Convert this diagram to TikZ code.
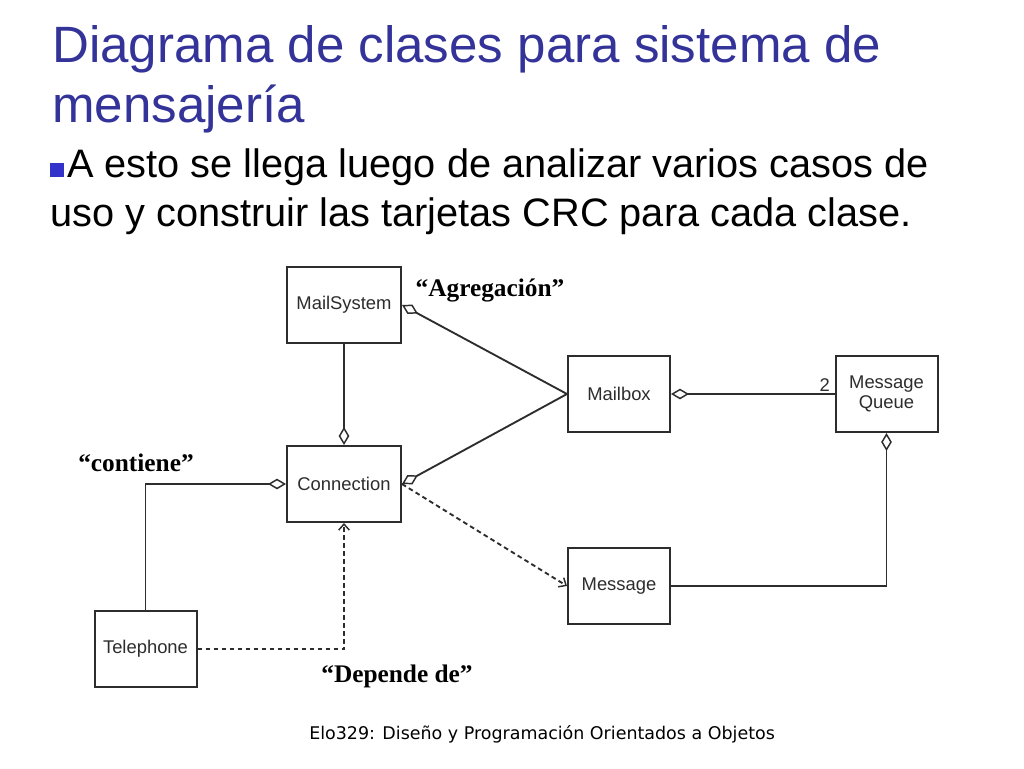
\documentclass[tikz,border=0pt]{standalone}
\usepackage{fontspec}
\setmainfont{Liberation Sans}
\newfontfamily\lblfont{Liberation Serif}
\newfontfamily\footfont{DejaVu Sans}
\usetikzlibrary{arrows.meta}
\definecolor{titleblue}{RGB}{51,51,153}
\definecolor{bulletblue}{RGB}{51,51,204}
\definecolor{boxgray}{RGB}{45,45,45}
\tikzset{
  classbox/.style={draw=boxgray, line width=1.5pt, fill=white, minimum width=76.5pt, minimum height=57pt, inner sep=0pt, align=center, font=\fontsize{13.8}{15.5}\selectfont, text=boxgray},
  conn/.style={draw=boxgray, line width=1.4pt},
  agg/.style={{Diamond[open,length=13.5pt,width=8pt,line width=1.1pt]}-},
  dep/.style={dashed, dash pattern=on 3.5pt off 2.5pt, -{Straight Barb[length=4.5pt,width=8pt,line width=1.1pt]}},
  lbl/.style={font=\lblfont\bfseries\fontsize{19}{22}\selectfont, anchor=base},
}
\begin{document}
\begin{tikzpicture}[x=0.75pt,y=-0.75pt]
\useasboundingbox (0,0) rectangle (1024,768);
% title
\node[anchor=base west, inner sep=0pt, text=titleblue, font=\fontsize{38.3}{45}\selectfont] (t1) at (52,62) {Diagrama de clases para sistema de};
\node[anchor=base west, inner sep=0pt, text=titleblue, font=\fontsize{38.3}{45}\selectfont] (t2) at (52,122) {mensajería};
% bullet
\node[fill=bulletblue, minimum size=10pt, inner sep=0pt, anchor=south west] (bul) at (50,177) {};
\node[anchor=base west, inner sep=0pt, font=\fontsize{29.8}{34}\selectfont] (b1) at (67,177) {A esto se llega luego de analizar varios casos de};
\node[anchor=base west, inner sep=0pt, font=\fontsize{29.8}{34}\selectfont] (b2) at (50,226) {uso y construir las tarjetas CRC para cada clase.};
% classes
\node[classbox, minimum width=85.5pt] (ms) at (344,305) {MailSystem};
\node[classbox, minimum width=85.5pt] (con) at (344,484) {Connection};
\node[classbox] (mb) at (619,394) {Mailbox};
\node[classbox] (mq) at (886.5,394) {Message\\Queue};
\node[classbox] (msg) at (619,586) {Message};
\node[classbox] (tel) at (145.5,649) {Telephone};
% connectors
\draw[conn, agg] (ms.east) -- (mb.west);
\draw[conn, agg] (con.east) -- (mb.west);
\draw[conn, agg] (con.north) -- (ms.south);
\draw[conn, agg] (mb.east) -- node[pos=0.94, above, font=\fontsize{13.8}{15}\selectfont, text=boxgray, inner sep=1pt] {2} (mq.west);
\draw[conn, agg] (mq.south) |- (msg.east);
\draw[conn, agg] (con.west) -| (tel.north);
\draw[conn, dep] (tel.east) -| (con.south);
\draw[conn, dep] (con.east) -- (msg.west);
% labels
\node[lbl] (lagg) at (490,296) {“Agregación”};
\node[lbl] (lcont) at (136,471) {“contiene”};
\node[lbl] (ldep) at (397,682) {“Depende de”};
% footer
\node[anchor=base west, inner sep=0pt, font=\footfont\fontsize{13.1}{15}\selectfont] (foot) at (309,739) {Elo329: Diseño y Programación Orientados a Objetos};
\end{tikzpicture}
\end{document}
